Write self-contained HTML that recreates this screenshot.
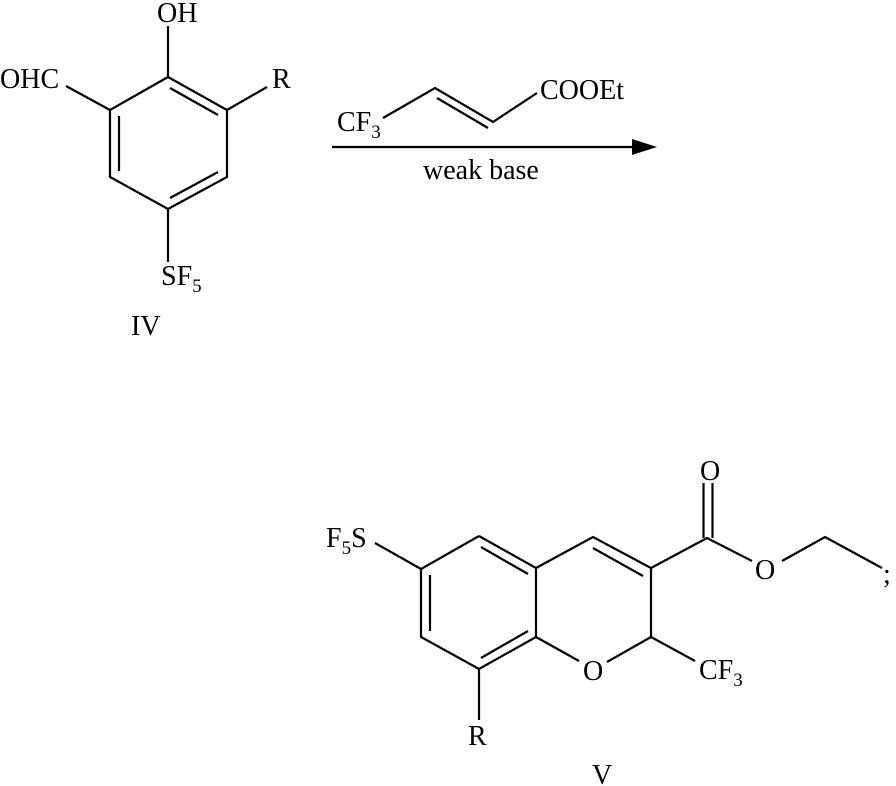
<!DOCTYPE html>
<html><head><meta charset="utf-8"><style>
html,body{margin:0;padding:0;background:#fff;}
svg{display:block;}
text{font-family:"Liberation Serif",serif;fill:#000;}
</style></head><body>
<svg width="896" height="786" viewBox="0 0 896 786" xmlns="http://www.w3.org/2000/svg">
<g stroke="#000" stroke-width="2.2" fill="none" stroke-linecap="butt">
<polyline points="168,77 227,110 227,177 168,209 110,177 110,110 168,77"/>
<line x1="170" y1="88" x2="218" y2="115"/>
<line x1="119" y1="116" x2="119" y2="171"/>
<line x1="170" y1="198" x2="218" y2="172"/>
<line x1="168" y1="77" x2="168" y2="26"/>
<line x1="110" y1="110" x2="66" y2="86"/>
<line x1="227" y1="110" x2="267" y2="87"/>
<line x1="168" y1="209" x2="168" y2="262"/>
<polyline points="383,118 435,88 493,122 537,93"/>
<line x1="437" y1="98" x2="488" y2="128"/>
<line x1="332" y1="147" x2="640" y2="147"/>
<polyline points="479,536 421,569 421,637 479,669 536,637 536,568 479,536"/>
<line x1="481" y1="547" x2="528" y2="574"/>
<line x1="430" y1="575" x2="430" y2="631"/>
<line x1="481" y1="658" x2="528" y2="631"/>
<line x1="375" y1="543" x2="421" y2="569"/>
<line x1="479" y1="669" x2="479" y2="720"/>
<polyline points="536,568 593,537 651,568 651,637 695,661"/>
<line x1="593" y1="548" x2="643" y2="576"/>
<line x1="536" y1="637" x2="579" y2="661"/>
<line x1="651" y1="637" x2="607" y2="662"/>
<polyline points="651,568 707,538 752,561"/>
<polyline points="782,561 825,537 882,568"/>
<line x1="703.5" y1="538" x2="703.5" y2="483"/>
<line x1="712.5" y1="538" x2="712.5" y2="483"/>
</g>
<polygon points="657,147 632,139 632,155" fill="#000"/>
<g font-size="28">
<text x="157" y="22">OH</text>
<text x="0" y="88">OHC</text>
<text x="272" y="88">R</text>
<text x="161" y="285">SF<tspan font-size="19" dy="7">5</tspan></text>
<text x="131" y="335">IV</text>
<text x="337" y="131">CF<tspan font-size="19" dy="7">3</tspan></text>
<text x="540" y="99">COOEt</text>
<text x="423" y="179">weak base</text>
<text x="326" y="547">F<tspan font-size="19" dy="7">5</tspan><tspan dy="-7">S</tspan></text>
<text x="700" y="480">O</text>
<text x="755" y="579">O</text>
<text x="583" y="680">O</text>
<text x="699" y="679">CF<tspan font-size="19" dy="7">3</tspan></text>
<text x="468" y="745">R</text>
<text x="592" y="784">V</text>
<text x="883" y="583">;</text>
</g>
</svg>
</body></html>
